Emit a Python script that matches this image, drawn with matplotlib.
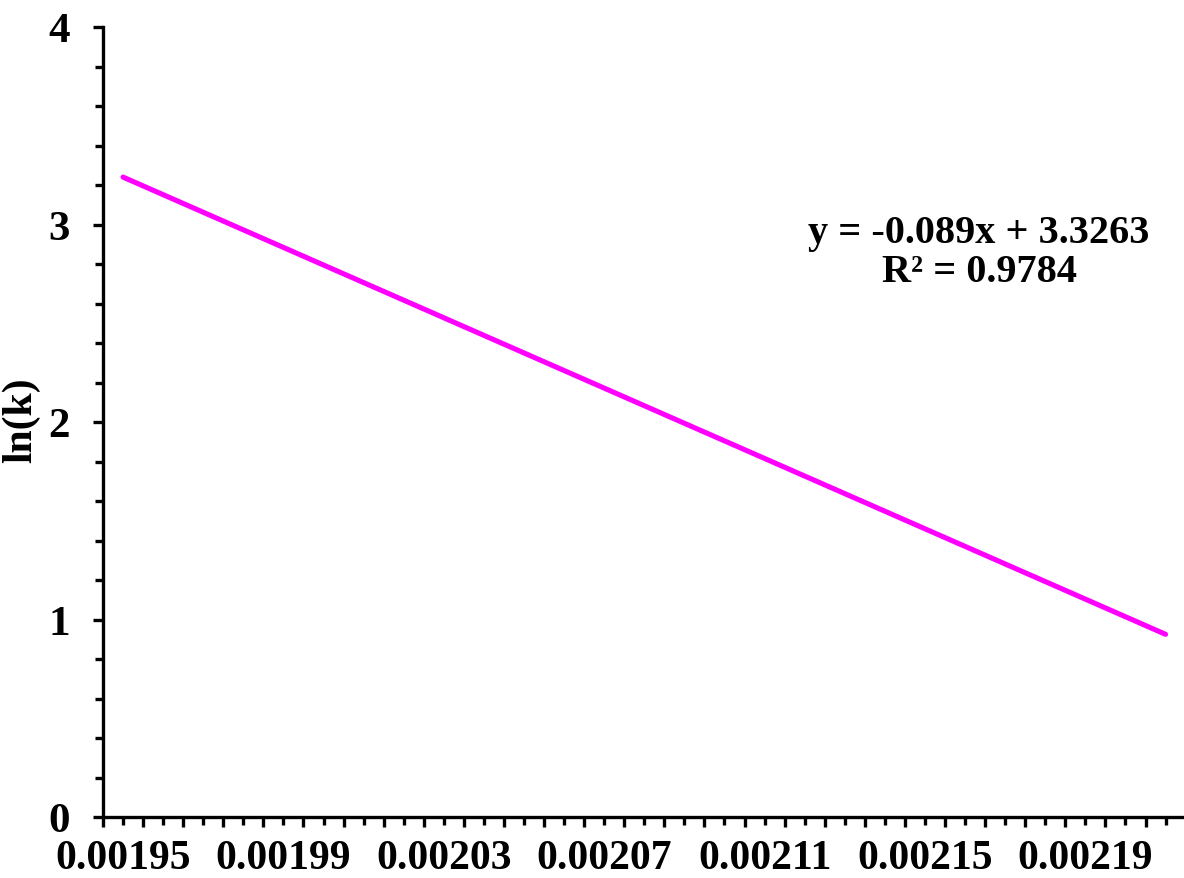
import matplotlib
matplotlib.use("Agg")
import matplotlib.pyplot as plt
import numpy as np

# ---- data ----
x_line = [0.00195, 0.00221]          # 1/T endpoints of the fitted line
lnk_line = [3.24, 0.925]             # ln(k) at those endpoints
x_tick_labels = ["0.00195", "0.00199", "0.00203", "0.00207",
                 "0.00211", "0.00215", "0.00219"]
y_ticks = [0, 1, 2, 3, 4]
equation_text = "y = -0.089x + 3.3263"
r2_text = "R² = 0.9784"
y_label = "ln(k)"

plt.rcParams['font.family'] = ['Liberation Serif', 'DejaVu Serif']
plt.rcParams['font.weight'] = 'bold'

fig = plt.figure(figsize=(11.84, 8.79), dpi=100)
ax = fig.add_axes([103/1184, 61/879, 1 - 103/1184, 790/879])

ax.plot(x_line, lnk_line, color='#FF00FF', lw=3.7, solid_capstyle='round')

ax.set_xlim(0.001945, 0.0022146)
ax.set_ylim(0, 4)

for s in ['top', 'right']:
    ax.spines[s].set_visible(False)
for s in ['left', 'bottom']:
    ax.spines[s].set_linewidth(2.4)

# x ticks: major at category boundaries (unlabelled), minor at centres (some labelled)
step = 0.00001
major_x = np.arange(0.001945, 0.0022146, step)
minor_x = np.arange(0.00195, 0.0022146, step)
ax.set_xticks(major_x)
ax.set_xticklabels([''] * len(major_x))
lab_vals = [float(t) for t in x_tick_labels]
minor_labels = []
for v in minor_x:
    match = [t for t, lv in zip(x_tick_labels, lab_vals) if abs(lv - v) < 1e-9]
    minor_labels.append(match[0] if match else '')
ax.set_xticks(minor_x, minor=True)
ax.set_xticklabels(minor_labels, minor=True)

ax.set_yticks(np.arange(0, 4.01, 0.2), minor=True)
ax.set_yticks(y_ticks)
ax.set_yticklabels([str(v) for v in y_ticks])

ax.tick_params(axis='x', which='major', direction='out', length=7, width=2.4)
ax.tick_params(axis='x', which='minor', direction='out', length=5.5, width=2.4,
               pad=10, labelsize=30)
ax.tick_params(axis='y', which='major', direction='out', length=7, width=2.4,
               pad=17, labelsize=31)
ax.tick_params(axis='y', which='minor', direction='out', length=5.5, width=2.4)
for lab in ax.get_xticklabels(minor=True) + ax.get_yticklabels():
    lab.set_fontweight('bold')

ax.set_ylabel(y_label, fontsize=30, fontweight='bold')
ax.yaxis.set_label_coords(-0.058, 0.504)

fig.text(979/1184, 1 - 243/879, equation_text, ha='center', va='baseline',
         fontsize=29, fontweight='bold')
fig.text(979/1184, 1 - 282/879, r2_text, ha='center', va='baseline',
         fontsize=29, fontweight='bold')

fig.savefig("out.png", dpi=100)
